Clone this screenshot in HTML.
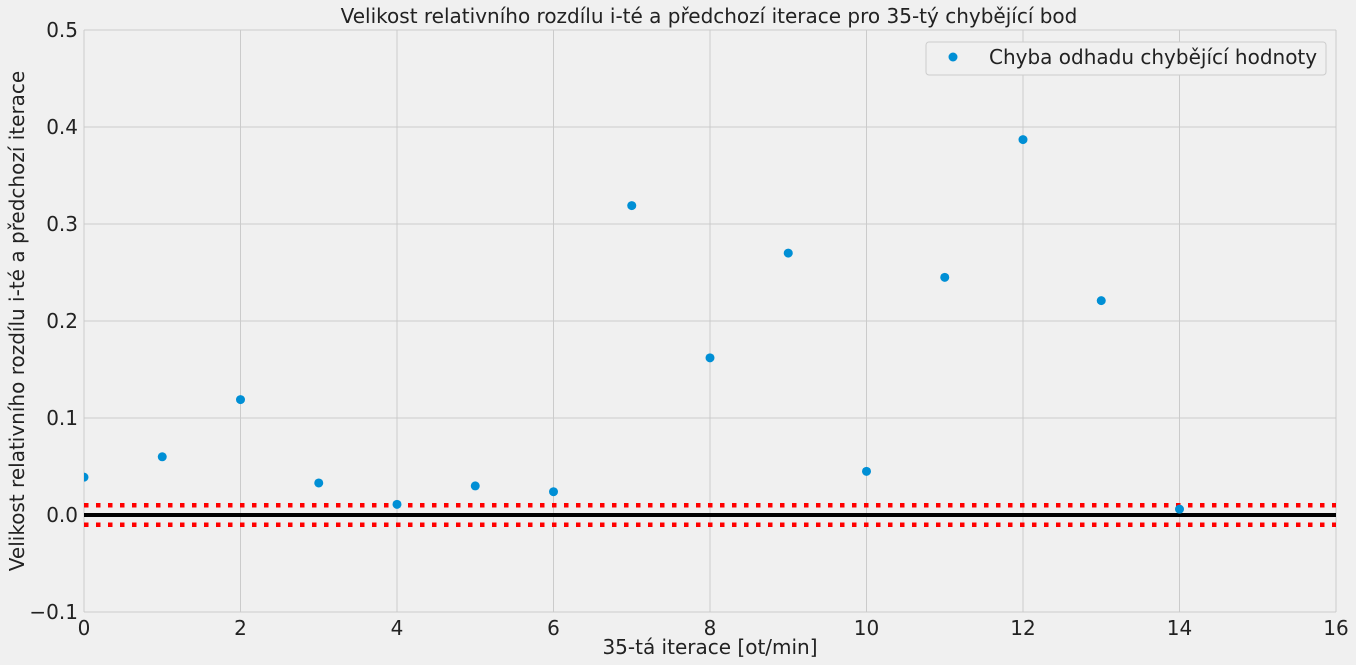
<!DOCTYPE html>
<html><head><meta charset="utf-8"><style>
body{margin:0;background:#f0f0f0;}
svg{display:block;font-family:"DejaVu Sans","Liberation Sans",sans-serif;}
</style></head><body>
<svg id="chart" width="1356" height="665" xmlns="http://www.w3.org/2000/svg">
<defs><clipPath id="clip"><rect x="84" y="30" width="1252" height="582"/></clipPath></defs>
<rect width="1356" height="665" fill="#f0f0f0"/>
<g id="grid"></g>
<g id="ticks"></g>
<g id="lines" clip-path="url(#clip)"></g>
<g id="points" clip-path="url(#clip)"></g>
<text x="709" y="23" text-anchor="middle" font-size="20" fill="#222">Velikost relativního rozdílu i-té a předchozí iterace pro 35-tý chybějící bod</text>
<text x="710" y="654" text-anchor="middle" font-size="20" fill="#222">35-tá iterace [ot/min]</text>
<text transform="translate(24,321) rotate(-90)" text-anchor="middle" font-size="20" fill="#222">Velikost relativního rozdílu i-té a předchozí iterace</text>
<g>
<rect x="926" y="42" width="400" height="33" rx="3" fill="#f0f0f0" stroke="#cccccc"/>
<circle cx="953" cy="57" r="4.5" fill="#008fd5"/>
<text x="989" y="64" font-size="20" fill="#222">Chyba odhadu chybějící hodnoty</text>
</g>
</svg>
<script>
const xs=[0,1,2,3,4,5,6,7,8,9,10,11,12,13,14];
const ys=[0.039,0.060,0.119,0.033,0.011,0.030,0.024,0.319,0.162,0.270,0.045,0.245,0.387,0.221,0.006];
const xTicks=[0,2,4,6,8,10,12,14,16];
const yTicks=[-0.1,0.0,0.1,0.2,0.3,0.4,0.5];
const tol=0.01;
const X=v=>84+v*(1252/16);
const Y=v=>515-v*970;
const NS="http://www.w3.org/2000/svg";
function mk(p,tag,a){const e=document.createElementNS(NS,tag);for(const k in a)e.setAttribute(k,a[k]);document.getElementById(p).appendChild(e);return e;}
xTicks.forEach(t=>{
 const g=mk('grid','line',{x1:X(t),x2:X(t),y1:30,y2:612,stroke:'#cbcbcb','stroke-width':1});
 
 
 const l=mk('ticks','text',{x:X(t),y:635,'text-anchor':'middle','font-size':20,fill:'#222'});
 l.textContent=t;
 
 
});
yTicks.forEach(t=>{
 const g=mk('grid','line',{x1:84,x2:1336,y1:Y(t),y2:Y(t),stroke:'#cbcbcb','stroke-width':1});
 
 
 const l=mk('ticks','text',{x:78,y:Y(t)+7,'text-anchor':'end','font-size':20,fill:'#222'});
 l.textContent=t<0?'\u2212'+Math.abs(t).toFixed(1):t.toFixed(1);
 
 
});
[tol,-tol].forEach(v=>{
 const l=mk('lines','line',{x1:84,x2:1336,y1:Y(v),y2:Y(v),stroke:'#ff0000','stroke-width':4.5,'stroke-dasharray':'4.5 7.5'});
 
 
});
const z=mk('lines','line',{x1:84,x2:1336,y1:Y(0),y2:Y(0),stroke:'#000','stroke-width':4});


xs.forEach((x,i)=>{
 const c=mk('points','circle',{cx:X(x),cy:Y(ys[i]),r:4.5,fill:'#008fd5'});
 
 
});
</script>
</body></html>
